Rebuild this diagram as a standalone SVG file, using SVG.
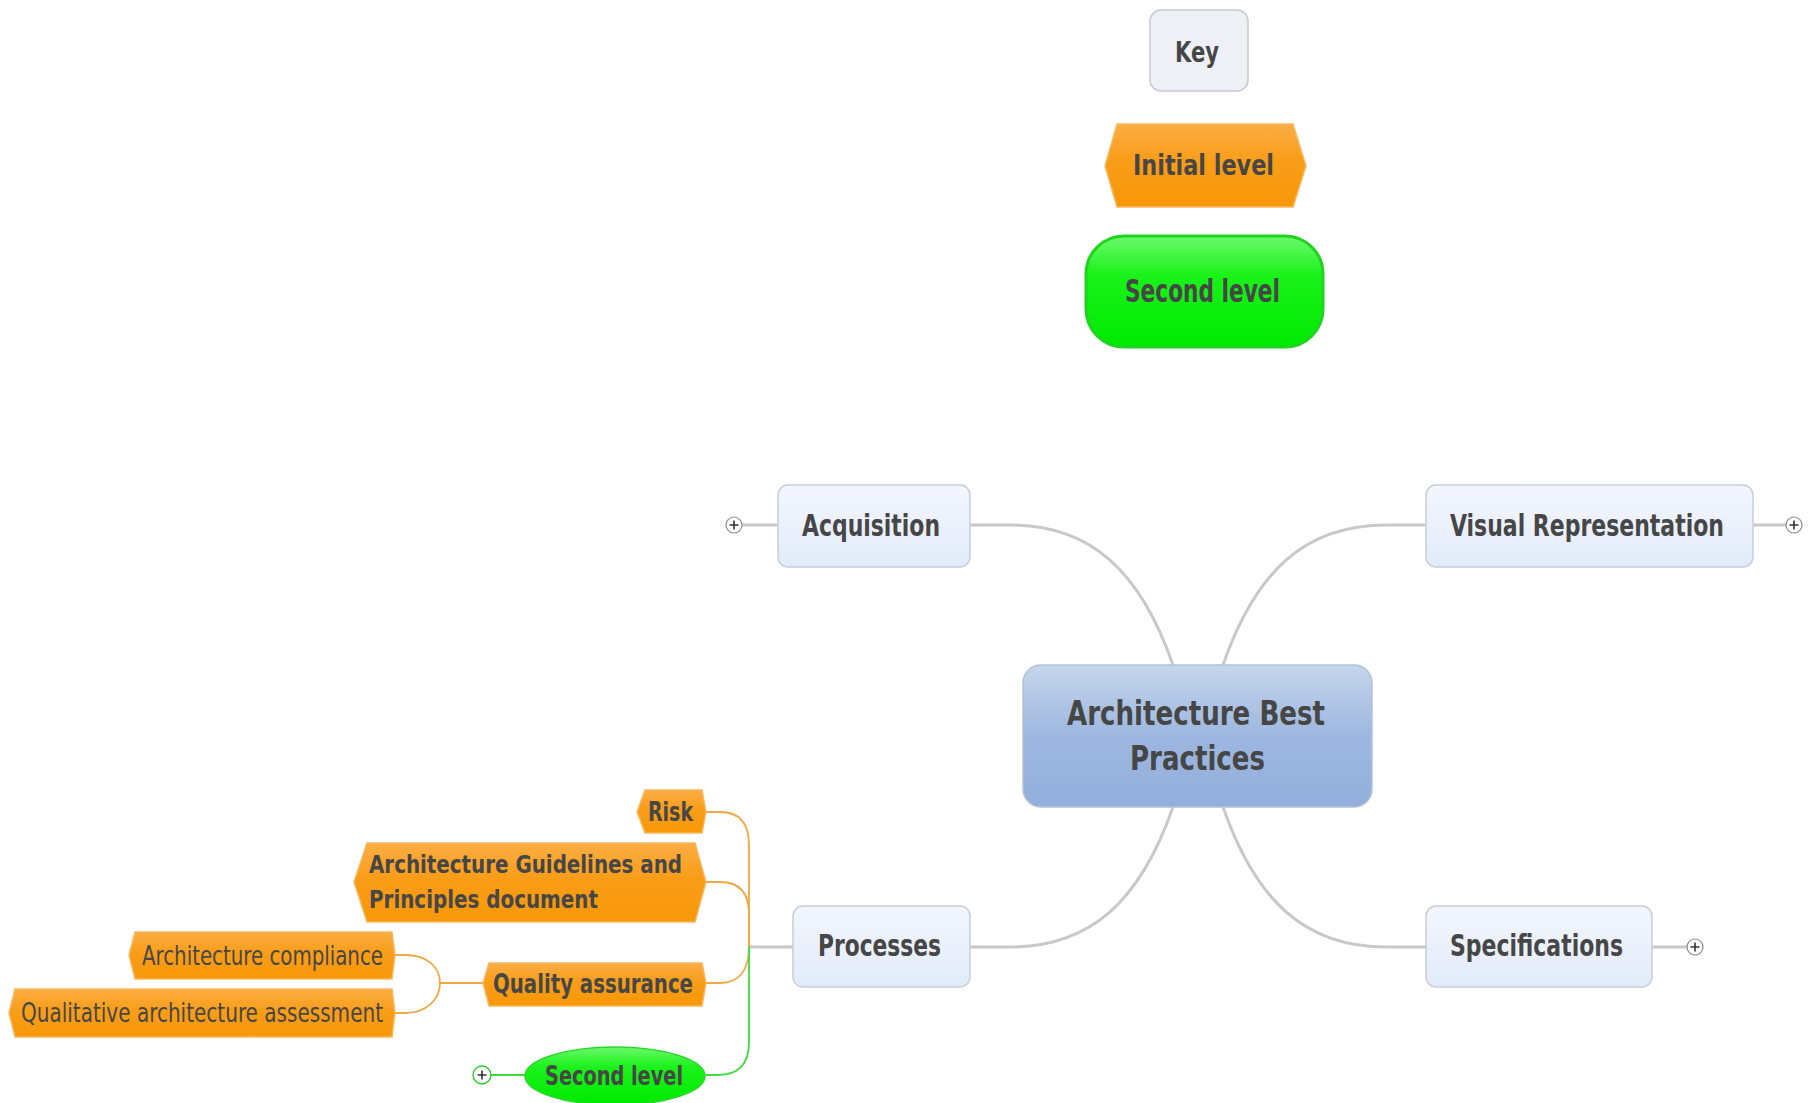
<svg xmlns="http://www.w3.org/2000/svg" width="1810" height="1103" viewBox="0 0 1810 1103">
<style>
  .txt { font-family: "DejaVu Sans Condensed", "DejaVu Sans", sans-serif; fill: #464646; }
  .b { font-weight: bold; }
  .topic { fill: url(#topicGrad); stroke: #c8cdd6; stroke-width: 1.5; }
  .orange { fill: url(#orangeGrad); stroke: #f7b860; stroke-width: 1.5; }
  .conn { fill: none; stroke: #c8c8c8; stroke-width: 3; }
  .oconn { fill: none; stroke: #f0a840; stroke-width: 1.8; }
  .gconn { fill: none; stroke: #3ddc3d; stroke-width: 1.8; }
  .plus { fill: #ffffff; stroke: #8a8a8a; stroke-width: 1.2; }
  .plusg { fill: #ffffff; stroke: #2ccc2c; stroke-width: 1.4; }
  .pl { stroke: #333; stroke-width: 1.6; }
</style>
<defs>
  <linearGradient id="topicGrad" x1="0" y1="0" x2="0" y2="1">
    <stop offset="0" stop-color="#f3f6fd"/>
    <stop offset="1" stop-color="#e2ebf9"/>
  </linearGradient>
  <linearGradient id="centralGrad" x1="0" y1="0" x2="0" y2="1">
    <stop offset="0" stop-color="#c6d6ec"/>
    <stop offset="0.5" stop-color="#9db7df"/>
    <stop offset="1" stop-color="#92afdc"/>
  </linearGradient>
  <linearGradient id="orangeGrad" x1="0" y1="0" x2="0" y2="1">
    <stop offset="0" stop-color="#fbad44"/>
    <stop offset="0.45" stop-color="#f99d18"/>
    <stop offset="1" stop-color="#f89808"/>
  </linearGradient>
  <linearGradient id="greenGrad" x1="0" y1="0" x2="0" y2="1">
    <stop offset="0" stop-color="#6cf86c"/>
    <stop offset="0.35" stop-color="#1af21a"/>
    <stop offset="1" stop-color="#00ea00"/>
  </linearGradient>
</defs>

<g id="connectors">
  <path class="conn" d="M 970 525 L 1010 525 C 1090 525 1140 570 1173 665"/>
  <path class="conn" d="M 1426 525 L 1386 525 C 1306 525 1256 570 1223 665"/>
  <path class="conn" d="M 970 947 L 1010 947 C 1090 947 1140 902 1173 807"/>
  <path class="conn" d="M 1426 947 L 1386 947 C 1306 947 1256 902 1223 807"/>
  <line class="conn" x1="742" y1="525" x2="778" y2="525" stroke-width="1.5"/>
  <line class="conn" x1="1753" y1="525" x2="1786" y2="525" stroke-width="1.5"/>
  <line class="conn" x1="1652" y1="947" x2="1687" y2="947" stroke-width="1.5"/>
  <line class="conn" x1="793" y1="947" x2="749" y2="947" stroke-width="1.8"/>
  <path class="oconn" d="M 749 947 L 749 845 C 749 823 740 812 720 812 L 706 812"/>
  <path class="oconn" d="M 749 947 L 749 914 C 749 893 740 882 720 882 L 706 882"/>
  <path class="oconn" d="M 749 947 C 749 969 740 983 720 983 L 706 983"/>
  <path class="gconn" d="M 749 947 L 749 1042 C 749 1064 738 1075 718 1075 L 706 1075"/>
  <line class="oconn" x1="483" y1="983" x2="440" y2="983"/>
  <path class="oconn" d="M 392 955 L 405 955 C 426 955 440 966 440 983 C 440 1000 426 1013 405 1013 L 392 1013"/>
  <line class="gconn" x1="491" y1="1075" x2="525" y2="1075"/>
</g>

<g id="key">
  <rect x="1150" y="10" width="98" height="81" rx="11" fill="#eef0f6" stroke="#c8c9d2" stroke-width="1.5"/>
  <text class="txt b" x="1197" y="62" font-size="29" text-anchor="middle" textLength="44" lengthAdjust="spacingAndGlyphs">Key</text>
</g>

<g id="key-initial-level">
  <polygon class="orange" points="1105,166 1117,124 1293,124 1306,166 1293,207 1117,207"/>
  <text class="txt b" x="1133" y="175" font-size="28" textLength="141" lengthAdjust="spacingAndGlyphs">Initial level</text>
</g>

<g id="key-second-level">
  <rect x="1086" y="236" width="237" height="111" rx="38" fill="url(#greenGrad)" stroke="#1fd41f" stroke-width="3"/>
  <text class="txt b" x="1125" y="302" font-size="32" textLength="155" lengthAdjust="spacingAndGlyphs" fill="#3a4a3a">Second level</text>
</g>

<g id="central">
  <rect x="1023" y="665" width="349" height="142" rx="18" fill="url(#centralGrad)" stroke="#b3c2d8" stroke-width="1.5"/>
  <text class="txt b" x="1067" y="725" font-size="33" textLength="258" lengthAdjust="spacingAndGlyphs" fill="#3a3a3a">Architecture Best</text>
  <text class="txt b" x="1130" y="770" font-size="33" textLength="135" lengthAdjust="spacingAndGlyphs" fill="#3a3a3a">Practices</text>
</g>

<g id="acquisition">
  <rect class="topic" x="778" y="485" width="192" height="82" rx="10"/>
  <text class="txt b" x="802" y="536" font-size="30" textLength="138" lengthAdjust="spacingAndGlyphs">Acquisition</text>
  <circle class="plus" cx="734" cy="525" r="8"/>
  <path class="pl" d="M 729.5 525 H 738.5 M 734 520.5 V 529.5"/>
</g>

<g id="visual-representation">
  <rect class="topic" x="1426" y="485" width="327" height="82" rx="10"/>
  <text class="txt b" x="1450" y="536" font-size="30" textLength="274" lengthAdjust="spacingAndGlyphs">Visual Representation</text>
  <circle class="plus" cx="1794" cy="525" r="8"/>
  <path class="pl" d="M 1789.5 525 H 1798.5 M 1794 520.5 V 529.5"/>
</g>

<g id="processes">
  <rect class="topic" x="793" y="906" width="177" height="81" rx="10"/>
  <text class="txt b" x="818" y="956" font-size="30" textLength="123" lengthAdjust="spacingAndGlyphs">Processes</text>
</g>

<g id="specifications">
  <rect class="topic" x="1426" y="906" width="226" height="81" rx="10"/>
  <text class="txt b" x="1450" y="956" font-size="30" textLength="173" lengthAdjust="spacingAndGlyphs">Specifications</text>
  <circle class="plus" cx="1695" cy="947" r="8"/>
  <path class="pl" d="M 1690.5 947 H 1699.5 M 1695 942.5 V 951.5"/>
</g>

<g id="risk">
  <polygon class="orange" points="637,812 645,790 702,790 706,812 702,833 645,833"/>
  <text class="txt b" x="648" y="821" font-size="26" textLength="45" lengthAdjust="spacingAndGlyphs">Risk</text>
</g>

<g id="guidelines">
  <polygon class="orange" points="354,882 367,843 695,843 706,882 695,922 367,922"/>
  <text class="txt b" x="369" y="873" font-size="25" textLength="313" lengthAdjust="spacingAndGlyphs">Architecture Guidelines and</text>
  <text class="txt b" x="369" y="908" font-size="25" textLength="229" lengthAdjust="spacingAndGlyphs">Principles document</text>
</g>

<g id="quality-assurance">
  <polygon class="orange" points="483,983 489,963 702,963 706,983 702,1006 489,1006"/>
  <text class="txt b" x="493" y="993" font-size="26" textLength="200" lengthAdjust="spacingAndGlyphs">Quality assurance</text>
</g>

<g id="architecture-compliance">
  <polygon class="orange" points="129,955 135,932 392,932 395,955 392,979 135,979"/>
  <text class="txt" x="142" y="965" font-size="27" textLength="241" lengthAdjust="spacingAndGlyphs">Architecture compliance</text>
</g>

<g id="qualitative-assessment">
  <polygon class="orange" points="9,1013 15,989 392,989 395,1013 392,1037 15,1037"/>
  <text class="txt" x="21" y="1022" font-size="27" textLength="362" lengthAdjust="spacingAndGlyphs">Qualitative architecture assessment</text>
</g>

<g id="second-level">
  <ellipse cx="615" cy="1076" rx="90" ry="29" fill="url(#greenGrad)" stroke="#2ad82a" stroke-width="1.5"/>
  <text class="txt b" x="545" y="1085" font-size="27" textLength="138" lengthAdjust="spacingAndGlyphs" fill="#3a4a3a">Second level</text>
  <circle class="plusg" cx="482" cy="1075" r="9"/>
  <path class="pl" d="M 477.5 1075 H 486.5 M 482 1070.5 V 1079.5"/>
</g>
</svg>
